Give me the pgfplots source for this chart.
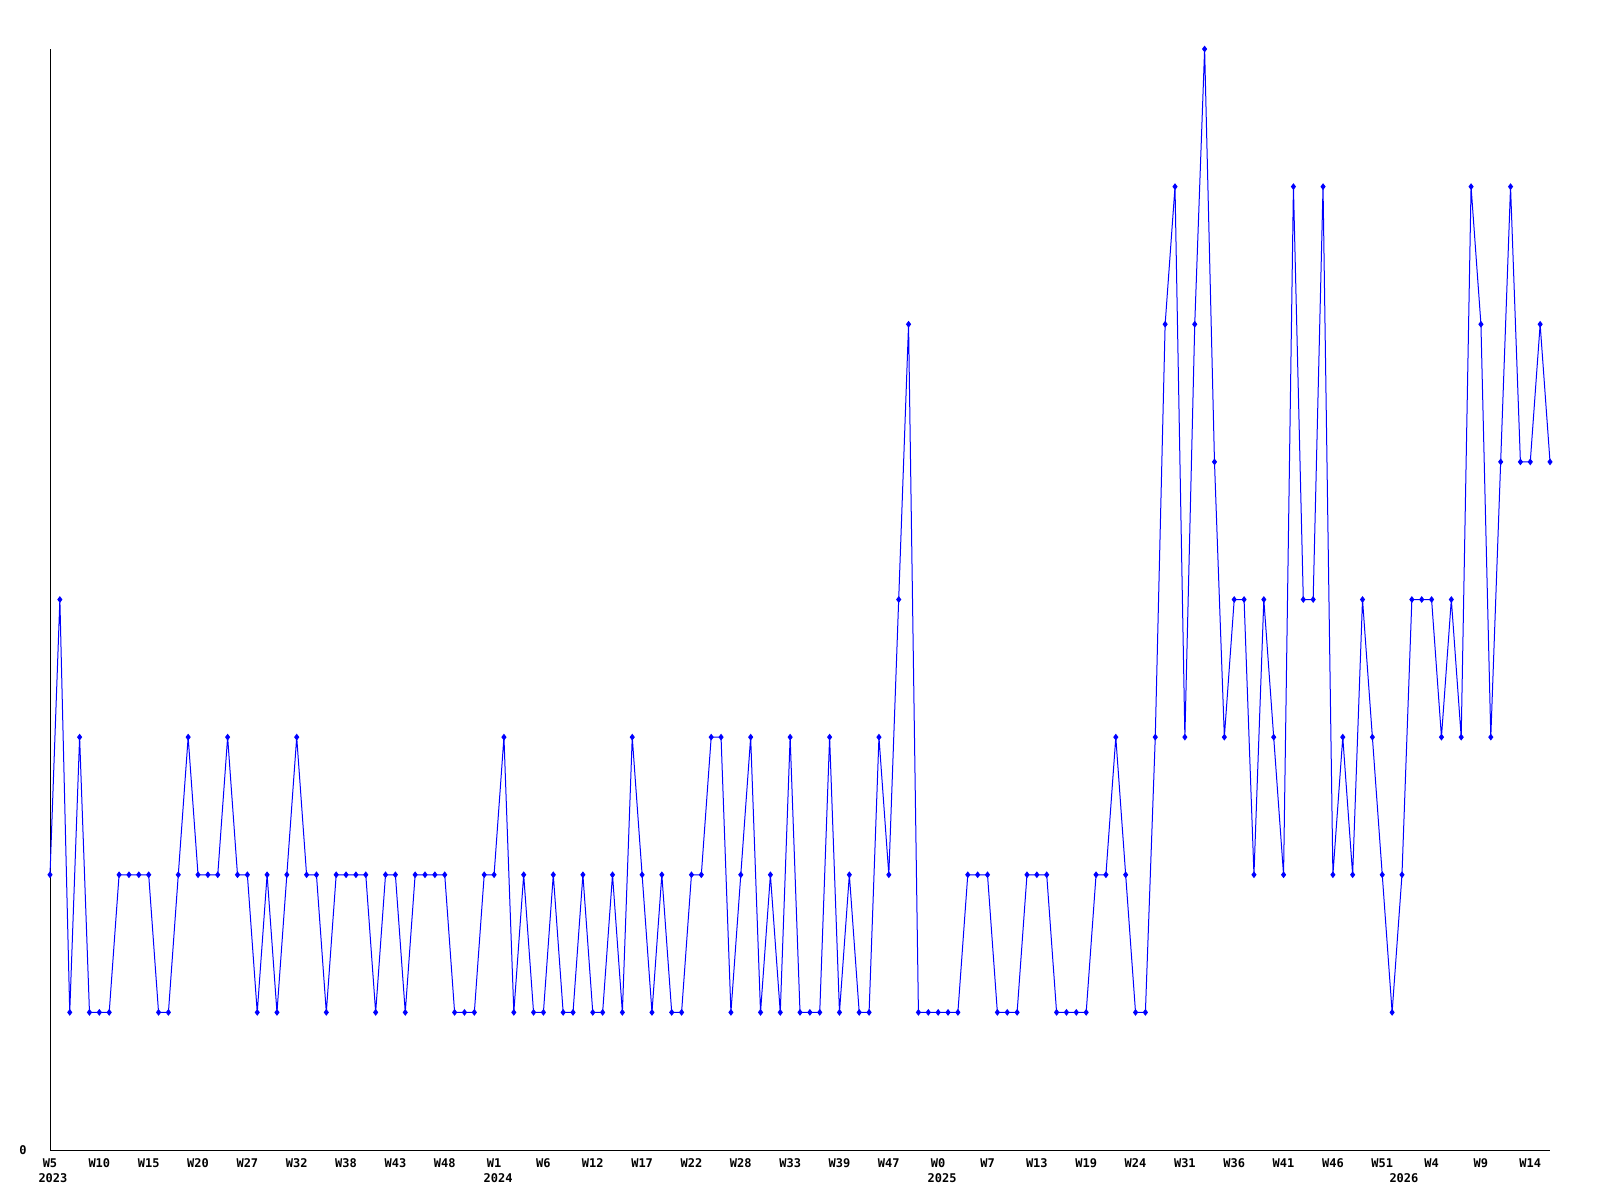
\documentclass[border=0pt]{standalone}
\usepackage{pgfplots}
\pgfplotsset{compat=1.18}
\usepackage{fontspec}
\newfontfamily\lbl{DejaVu Sans Mono}
\begin{document}
\begin{tikzpicture}[x=1pt,y=1pt]
\path[use as bounding box] (0,0) rectangle (800,600);
\begin{axis}[
  at={(25pt,25pt)}, anchor=south west,
  scale only axis, width=750pt, height=550.5pt,
  xmin=0, xmax=152, ymin=0, ymax=8,
  axis lines*=left,
  axis line style={black, line width=0.5pt},
  clip=false,
  major tick length=0pt,
  xtick={0,5,...,150},
  xticklabels={W5,W10,W15,W20,W27,W32,W38,W43,W48,W1,W6,W12,W17,W22,W28,W33,W39,W47,W0,W7,W13,W19,W24,W31,W36,W41,W46,W51,W4,W9,W14},
  ytick={0}, yticklabels={0},
  ticklabel style={font=\lbl\bfseries\fontsize{6}{6}\selectfont, inner sep=0pt},
  xticklabel style={anchor=north, yshift=-4pt},
  yticklabel style={anchor=east, xshift=-11.5pt},
  extra x ticks={0.3,45.4,90.4,137.2},
  extra x tick labels={2023,2024,2025,2026},
  extra x tick style={xticklabel style={yshift=-7.5pt}},
]
\addplot[color={rgb,255:red,0;green,0;blue,255}, line width=0.5pt, mark=diamond*, mark size=1.3pt, mark options={solid}] coordinates {
(0,2)(1,4)(2,1)(3,3)(4,1)(5,1)(6,1)(7,2)(8,2)(9,2)
(10,2)(11,1)(12,1)(13,2)(14,3)(15,2)(16,2)(17,2)(18,3)(19,2)
(20,2)(21,1)(22,2)(23,1)(24,2)(25,3)(26,2)(27,2)(28,1)(29,2)
(30,2)(31,2)(32,2)(33,1)(34,2)(35,2)(36,1)(37,2)(38,2)(39,2)
(40,2)(41,1)(42,1)(43,1)(44,2)(45,2)(46,3)(47,1)(48,2)(49,1)
(50,1)(51,2)(52,1)(53,1)(54,2)(55,1)(56,1)(57,2)(58,1)(59,3)
(60,2)(61,1)(62,2)(63,1)(64,1)(65,2)(66,2)(67,3)(68,3)(69,1)
(70,2)(71,3)(72,1)(73,2)(74,1)(75,3)(76,1)(77,1)(78,1)(79,3)
(80,1)(81,2)(82,1)(83,1)(84,3)(85,2)(86,4)(87,6)(88,1)(89,1)
(90,1)(91,1)(92,1)(93,2)(94,2)(95,2)(96,1)(97,1)(98,1)(99,2)
(100,2)(101,2)(102,1)(103,1)(104,1)(105,1)(106,2)(107,2)(108,3)(109,2)
(110,1)(111,1)(112,3)(113,6)(114,7)(115,3)(116,6)(117,8)(118,5)(119,3)
(120,4)(121,4)(122,2)(123,4)(124,3)(125,2)(126,7)(127,4)(128,4)(129,7)
(130,2)(131,3)(132,2)(133,4)(134,3)(135,2)(136,1)(137,2)(138,4)(139,4)
(140,4)(141,3)(142,4)(143,3)(144,7)(145,6)(146,3)(147,5)(148,7)(149,5)
(150,5)(151,6)(152,5)
};
\end{axis}
\end{tikzpicture}
\end{document}
